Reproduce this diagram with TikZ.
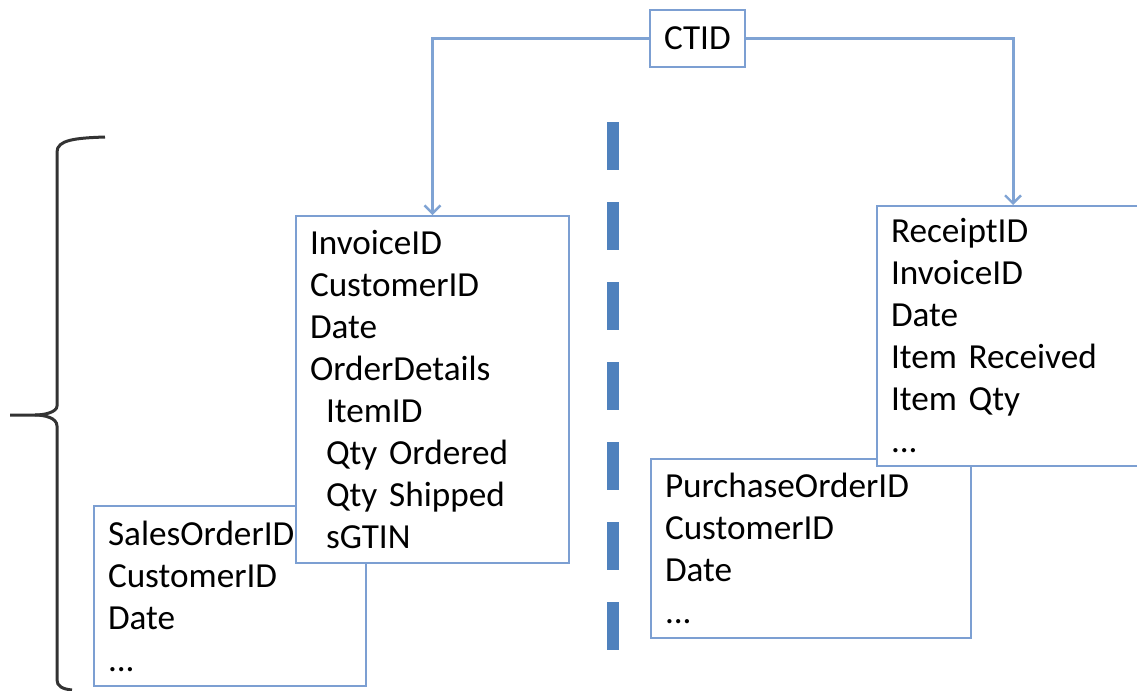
\documentclass[tikz,border=0pt]{standalone}
\usepackage{fontspec}
\setmainfont{Carlito}
\usepackage{xcolor}
\usetikzlibrary{positioning, calc, arrows.meta}

\definecolor{linkblue}{HTML}{7FA3D4}
\definecolor{boxblue}{HTML}{7C9FD2}
\definecolor{splitblue}{HTML}{4F81BD}

\begin{document}
\begin{tikzpicture}[x=0.5pt, y=-0.5pt,
    table/.style={draw=boxblue, line width=1pt, fill=white, anchor=north west,
        align=left, inner xsep=7pt, inner ysep=0pt,
        font=\fontsize{17.6}{21}\selectfont},
    link/.style={draw=linkblue, line width=1.5pt,
        -{Straight Barb[length=4pt, width=8pt, line width=1.2pt]}},
    split/.style={draw=splitblue, line width=6pt, dash pattern=on 24pt off 16pt},
    brace line/.style={draw=black!80, line width=1.5pt}]
    \useasboundingbox (0,0) rectangle (1137,691);

    % sales side
    \node[table, text width=122pt, minimum height=90pt] (sales) at (93,505)
        {SalesOrderID\\CustomerID\\Date\\...};
    \node[table, text width=122.5pt, minimum height=173.5pt] (invoice) at (295,215)
        {InvoiceID\\CustomerID\\Date\\OrderDetails\\
         \hspace*{8pt}ItemID\\\hspace*{8pt}Qty Ordered\\\hspace*{8pt}Qty Shipped\\\hspace*{8pt}sGTIN};

    % purchase side
    \node[table, text width=146pt, minimum height=89.5pt] (purchase) at (650,458)
        {PurchaseOrderID\\CustomerID\\Date\\...};
    \node[table, text width=122pt, minimum height=130pt] (receipt) at (876,205)
        {ReceiptID\\InvoiceID\\Date\\Item Received\\Item Qty\\...};

    \node[draw=boxblue, line width=1pt, fill=white, minimum width=47.5pt, minimum height=28.5pt,
        font=\fontsize{17.6}{21}\selectfont] (ctid) at (697.5,38.5) {CTID};

    \draw[link] (ctid.west) -| (invoice.north);
    \draw[link] (ctid.east) -| (receipt.north);

    % dividing line
    \coordinate (split top) at (613,122);
    \coordinate (split bottom) at (613,650);
    \draw[split] (split top) -- (split bottom);

    % brace
    \draw[brace line] (105,137) .. controls (75,138) and (57,140) .. (57,152) -- (57,406)
        .. controls (57,412) and (45,415) .. (35,415) -- (10,415);
    \draw[brace line] (35,415) .. controls (45,415) and (57,418) .. (57,426) -- (57,680)
        .. controls (57,686) and (62,689) .. (72,690);
\end{tikzpicture}
\end{document}
